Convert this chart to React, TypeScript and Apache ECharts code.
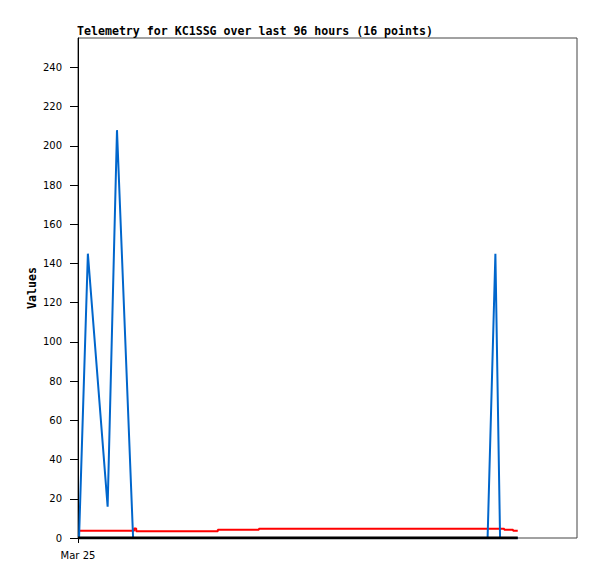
import React, { useEffect, useRef } from "react";
import * as echarts from "echarts";

// time in hours since Mar 25 00:00
const titleText = "Telemetry for KC1SSG over last 96 hours (16 points)";
const yTicks = [0, 20, 40, 60, 80, 100, 120, 140, 160, 180, 200, 220, 240];
const xTickLabel = "Mar 25";

const blueTimes = [0.2, 1.9, 5.7, 7.5, 10.6, 78.8, 80.3, 81.2, 84.6];
const blueValues = [0, 145, 16, 208, 0, 0, 145, 0, 0];

const redTimes = [0.3, 10.8, 11.2, 26.9, 34.8, 82.0, 83.7, 84.6];
const redValues = [3.7, 4.9, 3.4, 4.2, 4.75, 4.2, 3.7, 3.7];

const blackTimes = [0.0, 84.6];
const blackValues = [0, 0];

const zip = (a: number[], b: number[]) => a.map((t, i) => [t, b[i]]);

export default function App() {
  const ref = useRef<HTMLDivElement>(null);
  useEffect(() => {
    const chart = echarts.init(ref.current!, null, { renderer: "svg" });
    chart.setOption({
      animation: false,
      backgroundColor: "#ffffff",
      title: {
        text: titleText,
        left: 69,
        top: 17,
        padding: 0,
        textStyle: {
          fontFamily: "DejaVu Sans Mono",
          fontWeight: "bold",
          fontSize: 11.6,
          color: "#000",
        },
      },
      grid: {
        left: 70,
        top: 30,
        right: 20,
        bottom: 41,
        show: true,
        borderColor: "#444",
        borderWidth: 1,
        containLabel: false,
      },
      xAxis: {
        type: "value",
        min: 0,
        max: 96,
        splitLine: { show: false },
        axisLine: { show: false },
        axisTick: { show: true, length: 5, lineStyle: { color: "#000" }, customValues: [0] },
        axisLabel: {
          customValues: [0],
          formatter: () => xTickLabel,
          margin: 12,
          fontFamily: "DejaVu Sans",
          fontSize: 10,
          color: "#000",
        },
      },
      yAxis: {
        type: "value",
        min: 0,
        max: 255,
        name: "Values",
        nameLocation: "middle",
        nameGap: 40,
        nameMoveOverlap: false,
        nameRotate: 90,
        nameTextStyle: {
          fontFamily: "DejaVu Sans Mono",
          fontWeight: "bold",
          fontSize: 11.6,
          color: "#000",
        },
        splitLine: { show: false },
        axisLine: { show: true, lineStyle: { color: "#000", width: 1 } },
        axisTick: { show: true, length: 8, lineStyle: { color: "#000" }, customValues: yTicks },
        axisLabel: {
          customValues: yTicks,
          margin: 16,
          fontFamily: "DejaVu Sans",
          fontSize: 10,
          color: "#000",
        },
      },
      series: [
        {
          type: "line",
          data: zip(redTimes, redValues),
          step: "end",
          showSymbol: false,
          lineStyle: { color: "#ff0000", width: 2 },
        },
        {
          type: "line",
          data: zip(blueTimes, blueValues),
          showSymbol: false,
          lineStyle: { color: "#0066cc", width: 2 },
        },
        {
          type: "line",
          data: zip(blackTimes, blackValues),
          showSymbol: false,
          lineStyle: { color: "#000000", width: 3 },
        },
      ],
    });
    return () => chart.dispose();
  }, []);
  return <div ref={ref} style={{ width: 589, height: 571 }} />;
}
